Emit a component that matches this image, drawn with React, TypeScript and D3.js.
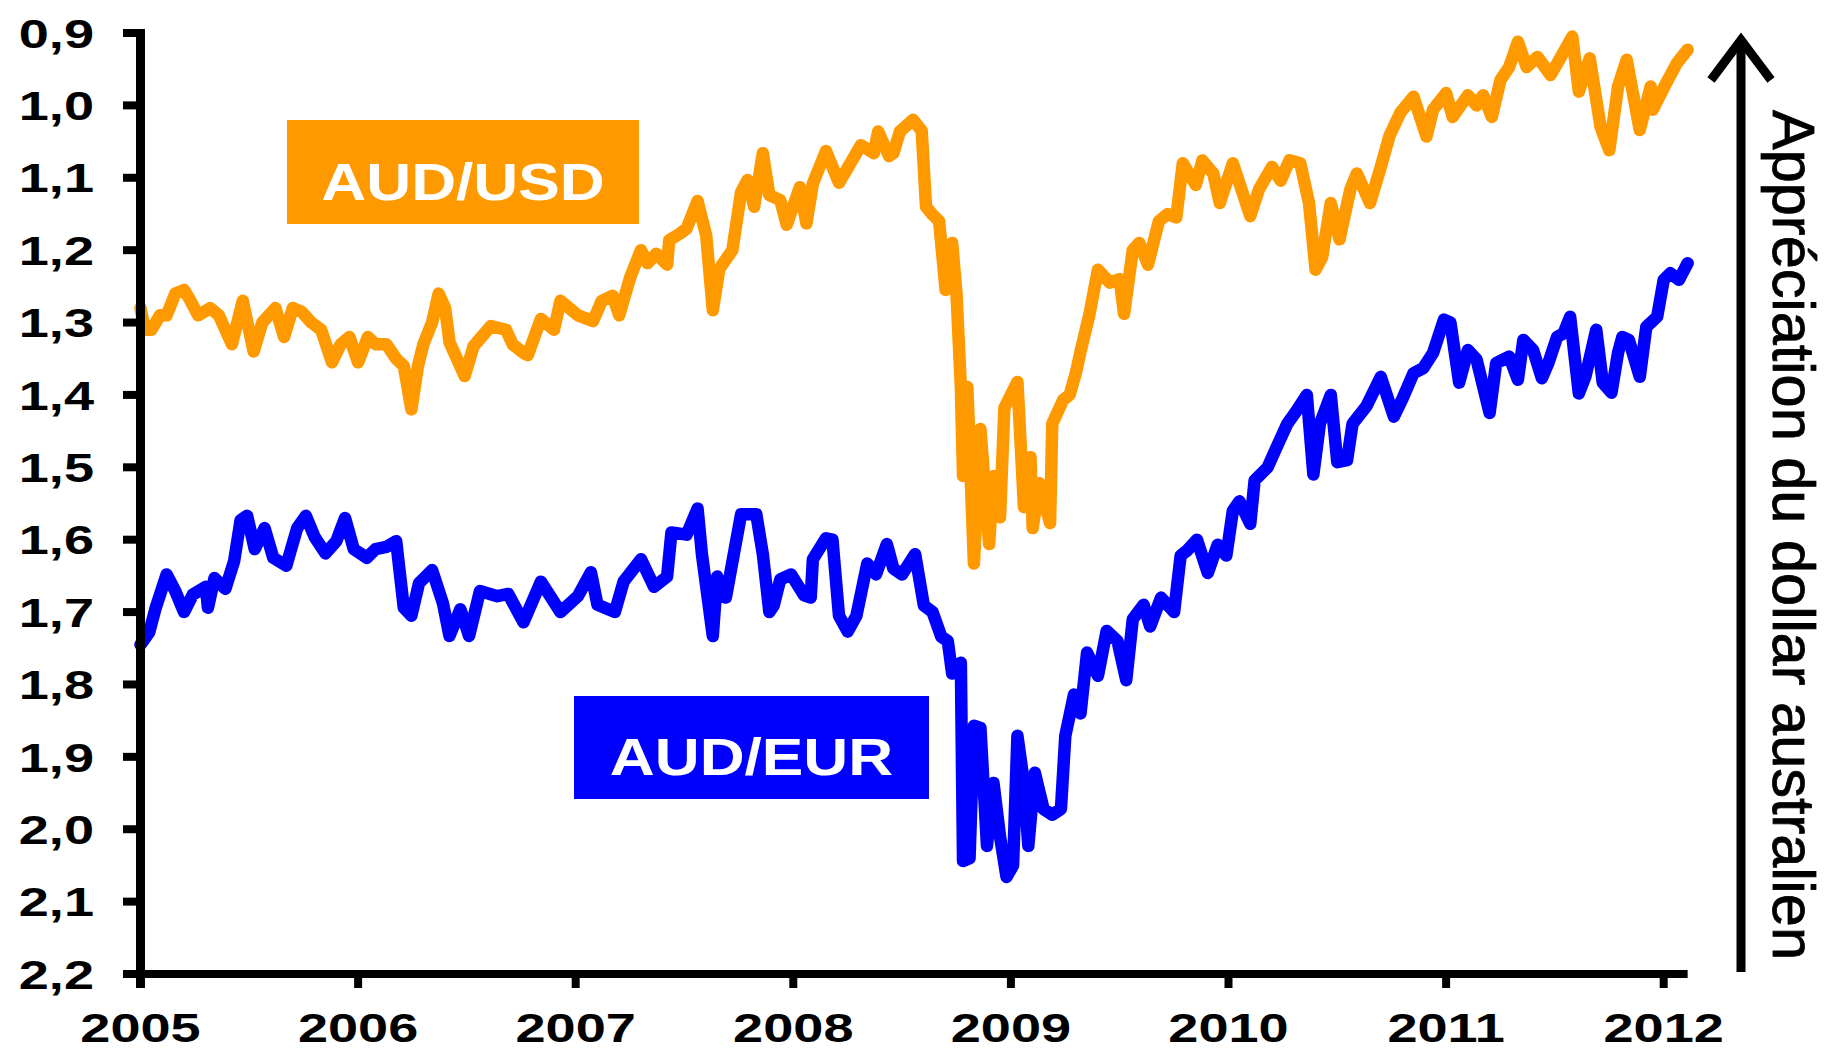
import React, { useEffect } from 'react';
import * as d3 from 'd3';

const usdYears = [
  2005.00, 2005.02, 2005.05, 2005.09, 2005.12, 2005.16, 2005.20, 2005.23, 2005.265, 2005.32,
  2005.36, 2005.42, 2005.47, 2005.52, 2005.56, 2005.62, 2005.66, 2005.70, 2005.74, 2005.785,
  2005.83, 2005.88, 2005.92, 2005.96, 2006.00, 2006.045, 2006.08, 2006.13, 2006.175, 2006.21,
  2006.245, 2006.275, 2006.30, 2006.34, 2006.37, 2006.40, 2006.42, 2006.49, 2006.53, 2006.61,
  2006.68, 2006.71, 2006.76, 2006.78, 2006.84, 2006.90, 2006.93, 2007.01, 2007.08, 2007.12,
  2007.17, 2007.20, 2007.25, 2007.30, 2007.33, 2007.37, 2007.42, 2007.43, 2007.48, 2007.51,
  2007.56, 2007.60, 2007.63, 2007.66, 2007.72, 2007.76, 2007.79, 2007.82, 2007.86, 2007.89,
  2007.94, 2007.97, 2008.03, 2008.06, 2008.09, 2008.15, 2008.21, 2008.28, 2008.31, 2008.37,
  2008.39, 2008.44, 2008.46, 2008.49, 2008.55, 2008.59, 2008.61, 2008.64, 2008.67, 2008.70,
  2008.73, 2008.75, 2008.77, 2008.78, 2008.80, 2008.83, 2008.86, 2008.90, 2008.92, 2008.95,
  2008.97, 2009.03, 2009.06, 2009.09, 2009.10, 2009.13, 2009.18, 2009.19, 2009.24, 2009.27,
  2009.30, 2009.32, 2009.36, 2009.40, 2009.455, 2009.50, 2009.52, 2009.56, 2009.59, 2009.63,
  2009.68, 2009.72, 2009.76, 2009.79, 2009.85, 2009.88, 2009.93, 2009.96, 2010.02, 2010.10,
  2010.14, 2010.20, 2010.24, 2010.28, 2010.33, 2010.37, 2010.40, 2010.43, 2010.47, 2010.51,
  2010.56, 2010.59, 2010.65, 2010.70, 2010.74, 2010.79, 2010.85, 2010.91, 2010.94, 2011.00,
  2011.03, 2011.10, 2011.14, 2011.17, 2011.21, 2011.25, 2011.29, 2011.33, 2011.37, 2011.42,
  2011.48, 2011.52, 2011.58, 2011.61, 2011.66, 2011.71, 2011.75, 2011.79, 2011.83, 2011.89,
  2011.94, 2011.95, 2012.01, 2012.06, 2012.11,
];
const usdValues = [
  1.28, 1.31, 1.31, 1.29, 1.29, 1.26, 1.255, 1.27, 1.29, 1.28,
  1.29, 1.33, 1.27, 1.34, 1.30, 1.28, 1.32, 1.28, 1.285, 1.30,
  1.31, 1.355, 1.33, 1.32, 1.355, 1.32, 1.33, 1.33, 1.35, 1.36,
  1.42, 1.36, 1.33, 1.30, 1.26, 1.28, 1.327, 1.374, 1.333, 1.305,
  1.31, 1.33, 1.342, 1.345, 1.295, 1.31, 1.27, 1.29, 1.298, 1.27,
  1.263, 1.29, 1.238, 1.20, 1.218, 1.205, 1.22, 1.186, 1.177, 1.17,
  1.132, 1.18, 1.283, 1.226, 1.20, 1.12, 1.103, 1.14, 1.066, 1.124,
  1.131, 1.165, 1.113, 1.163, 1.108, 1.063, 1.107, 1.071, 1.055, 1.066,
  1.036, 1.07, 1.066, 1.036, 1.02, 1.035, 1.14, 1.151, 1.16, 1.255,
  1.19, 1.26, 1.389, 1.512, 1.389, 1.633, 1.447, 1.606, 1.512, 1.569,
  1.418, 1.382, 1.555, 1.486, 1.584, 1.522, 1.577, 1.44, 1.407, 1.40,
  1.368, 1.34, 1.29, 1.227, 1.245, 1.24, 1.288, 1.20, 1.19, 1.22,
  1.16, 1.15, 1.155, 1.08, 1.11, 1.076, 1.094, 1.135, 1.08, 1.153,
  1.116, 1.085, 1.104, 1.076, 1.08, 1.135, 1.227, 1.21, 1.135, 1.185,
  1.116, 1.094, 1.135, 1.085, 1.042, 1.01, 0.988, 1.043, 1.006, 0.983,
  1.016, 0.986, 1.0, 0.986, 1.016, 0.965, 0.947, 0.912, 0.947, 0.933,
  0.958, 0.937, 0.905, 0.981, 0.935, 1.03, 1.062, 0.974, 0.937, 1.034,
  0.974, 1.006, 0.97, 0.942, 0.923,
];

const eurYears = [
  2005.00, 2005.04, 2005.07, 2005.12, 2005.16, 2005.20, 2005.24, 2005.30, 2005.31, 2005.34,
  2005.39, 2005.43, 2005.46, 2005.49, 2005.525, 2005.57, 2005.61, 2005.67, 2005.72, 2005.76,
  2005.80, 2005.85, 2005.90, 2005.94, 2005.98, 2006.04, 2006.08, 2006.13, 2006.175, 2006.21,
  2006.245, 2006.28, 2006.34, 2006.39, 2006.42, 2006.47, 2006.51, 2006.56, 2006.64, 2006.69,
  2006.76, 2006.84, 2006.93, 2007.01, 2007.07, 2007.10, 2007.18, 2007.22, 2007.30, 2007.36,
  2007.42, 2007.44, 2007.51, 2007.56, 2007.58, 2007.63, 2007.65, 2007.69, 2007.76, 2007.83,
  2007.86, 2007.89, 2007.91, 2007.94, 2007.99, 2008.05, 2008.08, 2008.09, 2008.15, 2008.18,
  2008.21, 2008.25, 2008.29, 2008.34, 2008.38, 2008.43, 2008.46, 2008.50, 2008.56, 2008.60,
  2008.64, 2008.68, 2008.71, 2008.73, 2008.77, 2008.78, 2008.81, 2008.83, 2008.86, 2008.89,
  2008.92, 2008.95, 2008.98, 2009.01, 2009.03, 2009.06, 2009.08, 2009.11, 2009.15, 2009.19,
  2009.23, 2009.25, 2009.29, 2009.32, 2009.35, 2009.40, 2009.44, 2009.49, 2009.53, 2009.56,
  2009.61, 2009.64, 2009.69, 2009.75, 2009.78, 2009.81, 2009.855, 2009.905, 2009.95, 2009.99,
  2010.02, 2010.05, 2010.10, 2010.12, 2010.18, 2010.22, 2010.27, 2010.31, 2010.36, 2010.39,
  2010.42, 2010.47, 2010.50, 2010.545, 2010.57, 2010.635, 2010.70, 2010.76, 2010.80, 2010.85,
  2010.895, 2010.94, 2010.99, 2011.02, 2011.06, 2011.10, 2011.14, 2011.20, 2011.23, 2011.29,
  2011.33, 2011.355, 2011.40, 2011.44, 2011.47, 2011.51, 2011.54, 2011.57, 2011.61, 2011.64,
  2011.69, 2011.72, 2011.76, 2011.79, 2011.81, 2011.84, 2011.89, 2011.92, 2011.97, 2012.00,
  2012.03, 2012.07, 2012.11,
];
const eurValues = [
  1.745, 1.728, 1.694, 1.648, 1.671, 1.70, 1.676, 1.665, 1.694, 1.653,
  1.668, 1.63, 1.573, 1.567, 1.613, 1.584, 1.625, 1.636, 1.584, 1.567,
  1.596, 1.619, 1.602, 1.57, 1.613, 1.625, 1.613, 1.61, 1.602, 1.694,
  1.705, 1.66, 1.642, 1.688, 1.733, 1.696, 1.733, 1.671, 1.678, 1.675,
  1.714, 1.658, 1.70, 1.678, 1.645, 1.69, 1.70, 1.658, 1.627, 1.665,
  1.651, 1.59, 1.593, 1.557, 1.62, 1.733, 1.651, 1.68, 1.565, 1.565,
  1.62, 1.70, 1.691, 1.655, 1.648, 1.677, 1.68, 1.627, 1.598, 1.60,
  1.705, 1.727, 1.705, 1.633, 1.648, 1.606, 1.64, 1.648, 1.62, 1.691,
  1.70, 1.734, 1.74, 1.785, 1.77, 2.044, 2.04, 1.857, 1.86, 2.023,
  1.936, 2.01, 2.066, 2.05, 1.871, 1.936, 2.023, 1.922, 1.972, 1.98,
  1.972, 1.871, 1.814, 1.84, 1.756, 1.788, 1.726, 1.74, 1.794, 1.71,
  1.69, 1.72, 1.68, 1.70, 1.622, 1.615, 1.60, 1.646, 1.607, 1.622,
  1.56, 1.547, 1.578, 1.518, 1.50, 1.473, 1.44, 1.423, 1.40, 1.51,
  1.44, 1.40, 1.493, 1.49, 1.44, 1.415, 1.375, 1.43, 1.405, 1.37,
  1.363, 1.342, 1.296, 1.30, 1.383, 1.338, 1.351, 1.425, 1.356, 1.347,
  1.379, 1.324, 1.338, 1.377, 1.356, 1.32, 1.315, 1.292, 1.398, 1.375,
  1.31, 1.383, 1.397, 1.342, 1.32, 1.324, 1.375, 1.306, 1.292, 1.241,
  1.232, 1.241, 1.218,
];

const yTicks = [0.9, 1.0, 1.1, 1.2, 1.3, 1.4, 1.5, 1.6, 1.7, 1.8, 1.9, 2.0, 2.1, 2.2];
const xTicks = [2005, 2006, 2007, 2008, 2009, 2010, 2011, 2012];
const seriesNames = ['AUD/USD', 'AUD/EUR'];
const seriesColors = ['#FF9900', '#0000FF'];
const arrowLabel = 'Appréciation du dollar australien';

const FONT = '"Liberation Sans", Arial, Helvetica, sans-serif';

export default function App() {
  useEffect(() => {
    document.body.style.margin = '0';
  }, []);

  const W = 1827;
  const H = 1051;
  const x = d3.scaleLinear().domain([2005, 2012]).range([140.5, 1663.7]);
  const y = d3.scaleLinear().domain([0.9, 2.2]).range([33, 974]);
  const axisX = x(2005);
  const axisY = y(2.2);
  const xEnd = x(2012.11);

  const line = d3
    .line<[number, number]>()
    .x((d) => x(d[0]))
    .y((d) => y(d[1]));

  const usd: [number, number][] = usdYears.map((t, i) => [t, usdValues[i]]);
  const eur: [number, number][] = eurYears.map((t, i) => [t, eurValues[i]]);

  const labelFs = 41;
  const sx = 1.32;
  const boxFs = 51;
  const boxSx = 1.22;

  const boxes = [
    { name: seriesNames[0], color: seriesColors[0], x0: 287, y0: 120, x1: 639, y1: 224, base: 200 },
    { name: seriesNames[1], color: seriesColors[1], x0: 574, y0: 696, x1: 929, y1: 799, base: 775 },
  ];

  return (
    <svg
      width={W}
      height={H}
      viewBox={`0 0 ${W} ${H}`}
      style={{ position: 'absolute', left: 0, top: 0, display: 'block', background: '#fff' }}
    >
      <rect x={0} y={0} width={W} height={H} fill="#fff" />

      {/* series lines */}
      <path d={line(usd) || ''} fill="none" stroke={seriesColors[0]} strokeWidth={12.5} strokeLinejoin="round" strokeLinecap="round" />
      <path d={line(eur) || ''} fill="none" stroke={seriesColors[1]} strokeWidth={12.5} strokeLinejoin="round" strokeLinecap="round" />

      {/* axes */}
      <line x1={axisX} y1={y(0.9) - 4} x2={axisX} y2={axisY + 14} stroke="#000" strokeWidth={9} />
      <line x1={axisX - 4} y1={axisY} x2={xEnd} y2={axisY} stroke="#000" strokeWidth={8} />
      {yTicks.map((v) => (
        <g key={`yt${v}`}>
          <line x1={123} x2={axisX} y1={y(v)} y2={y(v)} stroke="#000" strokeWidth={8} />
          <text
            transform={`translate(94,${y(v) + 0.358 * labelFs}) scale(${sx},1)`}
            textAnchor="end"
            fontFamily={FONT}
            fontWeight="bold"
            fontSize={labelFs}
            fill="#000"
          >
            {v.toFixed(1).replace('.', ',')}
          </text>
        </g>
      ))}
      {xTicks.map((t) => (
        <g key={`xt${t}`}>
          <line x1={x(t)} x2={x(t)} y1={axisY} y2={axisY + 14} stroke="#000" strokeWidth={8} />
          <text
            transform={`translate(${x(t)},1042) scale(${sx},1)`}
            textAnchor="middle"
            fontFamily={FONT}
            fontWeight="bold"
            fontSize={labelFs}
            fill="#000"
          >
            {t}
          </text>
        </g>
      ))}

      {/* series label boxes */}
      {boxes.map((b) => (
        <g key={b.name}>
          <rect x={b.x0} y={b.y0} width={b.x1 - b.x0} height={b.y1 - b.y0} fill={b.color} />
          <text
            transform={`translate(${(b.x0 + b.x1) / 2},${b.base}) scale(${boxSx},1)`}
            textAnchor="middle"
            fontFamily={FONT}
            fontWeight="bold"
            fontSize={boxFs}
            fill="#fff"
          >
            {b.name}
          </text>
        </g>
      ))}

      {/* appreciation arrow */}
      <line x1={1741} y1={972} x2={1741} y2={42} stroke="#000" strokeWidth={9} />
      <polyline points="1711,80 1741,40 1771,80" fill="none" stroke="#000" strokeWidth={9} strokeLinejoin="miter" />
      <text
        transform={`translate(1773,535) rotate(90)`}
        textAnchor="middle"
        fontFamily={FONT}
        fontSize={59.5}
        stroke="#000"
        strokeWidth={0.8}
        fill="#000"
      >
        {arrowLabel}
      </text>
    </svg>
  );
}
